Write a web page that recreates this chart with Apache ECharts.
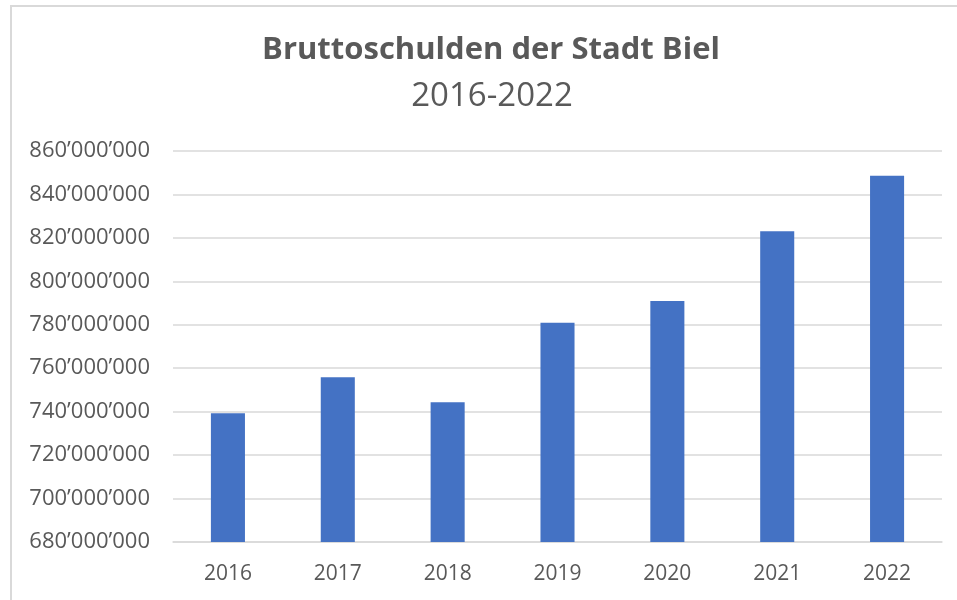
<!DOCTYPE html>
<html>
<head>
<meta charset="utf-8">
<script src="https://cdn.jsdelivr.net/npm/echarts@6/dist/echarts.min.js"></script>
<style>
  html, body { margin: 0; padding: 0; background: #fff; }
  #myChart { width: 957px; height: 600px; }
</style>
</head>
<body>
<div id="myChart"></div>
<script>
// Jahre und Bruttoschulden (CHF)
var years = ['2016', '2017', '2018', '2019', '2020', '2021', '2022']
var debts = [739300000, 755900000, 744300000, 780900000, 790900000, 823100000, 848600000]
var yMin = 680000000
var yMax = 860000000
var yStep = 20000000

var textColor = '#595959'
var fontName = '"Open Sans", "Noto Sans", sans-serif'

// 860000000 -> 860’000’000
function swissFormat (v) {
  return String(Math.round(v)).replace(/\B(?=(\d{3})+(?!\d))/g, '\u2019')
}

var myChart = echarts.init(document.getElementById('myChart'))
var option = {
  backgroundColor: '#fff',
  animation: false,
  // Titel sitzt etwas rechts der Mitte (Rahmen beginnt bei x=11), daher als graphic
  graphic: [{
    type: 'rect',
    shape: { x: 11, y: 6, width: 1200, height: 1000 },
    style: { fill: 'none', stroke: '#d9d9d9', lineWidth: 2 },
    silent: true
  }, {
    type: 'text',
    x: 491,
    y: 50,
    silent: true,
    style: {
      text: 'Bruttoschulden der Stadt Biel',
      fill: textColor,
      font: 'bold 31px ' + fontName,
      align: 'center',
      verticalAlign: 'middle'
    }
  }, {
    type: 'text',
    x: 492,
    y: 97,
    silent: true,
    style: {
      text: '2016-2022',
      fill: textColor,
      font: '33px ' + fontName,
      align: 'center',
      verticalAlign: 'middle'
    }
  }],
  grid: {
    left: 173,
    right: 15,
    top: 151,
    bottom: 58
  },
  xAxis: {
    type: 'category',
    data: years,
    axisLine: { show: true, lineStyle: { color: '#d9d9d9', width: 1.5 } },
    axisTick: { show: false },
    axisLabel: {
      color: textColor,
      fontFamily: fontName,
      fontSize: 21,
      margin: 22
    }
  },
  yAxis: {
    type: 'value',
    min: yMin,
    max: yMax,
    interval: yStep,
    axisLine: { show: false },
    axisTick: { show: false },
    splitLine: { lineStyle: { color: '#d9d9d9', width: 1.5 } },
    axisLabel: {
      color: textColor,
      fontFamily: fontName,
      fontSize: 22,
      margin: 23,
      formatter: swissFormat
    }
  },
  series: [{
    type: 'bar',
    data: debts,
    barWidth: '31%',
    itemStyle: { color: '#4472C4' }
  }]
}
myChart.setOption(option, true)
</script>
</body>
</html>
